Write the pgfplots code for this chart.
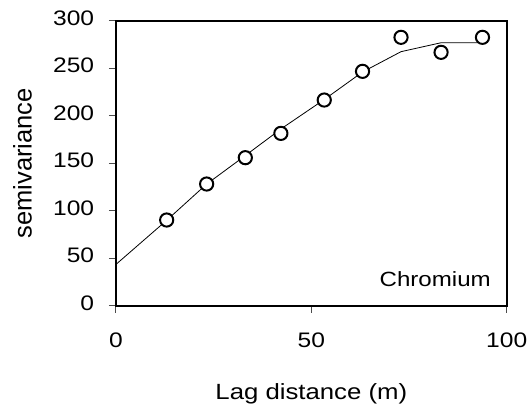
\documentclass[border=0pt]{standalone}
\usepackage{fontspec}
\setmainfont{Liberation Sans}
\newfontfamily\wfont{Liberation Sans}[FakeStretch=1.17]
\usepackage{pgfplots}
\pgfplotsset{compat=1.18}
\begin{document}
\begin{tikzpicture}
\path[use as bounding box] (-116bp,-106.3bp) rectangle (413bp,305.7bp);
\begin{axis}[
  scale only axis, width=390.7bp, height=285bp,
  at={(0,0)}, anchor=south west,
  xmin=0, xmax=100, ymin=0, ymax=300,
  xtick={0,50,100}, ytick={0,50,100,150,200,250,300},
  xtick pos=bottom, ytick pos=left, tick align=outside,
  major tick length=7bp,
  axis line style={line width=2bp},
  every tick/.style={black!70, line width=1bp},
  /pgf/number format/assume math mode=true,
  ticklabel style={font=\wfont\fontsize{21bp}{25bp}\selectfont, inner sep=0pt},
  yticklabel style={anchor=east, xshift=-14.7bp, yshift=2.5bp},
  xticklabel style={anchor=north, yshift=-20.3bp},
  xlabel={Lag distance (m)},
  xlabel style={at={(axis description cs:0.5,-0.3284)}, anchor=base, inner sep=0pt, font=\wfont\fontsize{22bp}{26bp}\selectfont},
  ylabel={semivariance},
  ylabel style={at={(axis description cs:-0.2158,0.5)}, anchor=base, inner sep=0pt, font=\fontsize{25.5bp}{30bp}\selectfont},
  clip=false,
]
\addplot[black, line width=0.8bp, no marks] coordinates {
  (0,43.5) (13,90) (23.2,128) (33.1,158) (42.2,186) (53.3,217) (63.1,246) (72.95,267.4) (83.2,276.8) (93.8,276.8)
};
\addplot[only marks, mark=*, mark size=6.6bp, mark options={draw=black, fill=white, line width=2bp}] coordinates {
  (12.97,90.2) (23.2,128.1) (33.1,155.8) (42.2,181.4) (53.3,216.5) (63.1,246.7) (72.95,282.5) (83.2,266.7) (93.8,282.5)
};
\node[anchor=base east, inner sep=0pt, font=\wfont\fontsize{20.6bp}{25bp}\selectfont] at ([xshift=-15.7bp,yshift=19bp]rel axis cs:1,0) {Chromium};
\end{axis}
\end{tikzpicture}
\end{document}
